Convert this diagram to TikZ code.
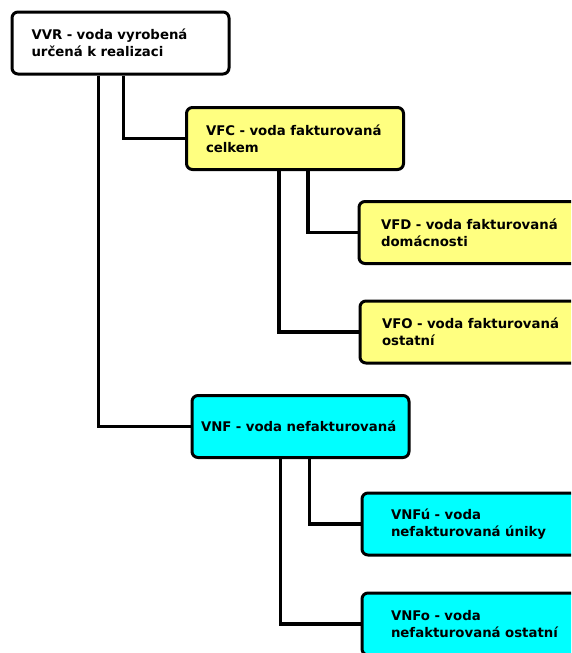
\documentclass[tikz,border=0pt]{standalone}
\usepackage{fontspec}
\setmainfont{DejaVu Sans}
\usepackage{xcolor}
\usepackage{tikz}
\definecolor{boxyellow}{HTML}{FFFF80}
\definecolor{boxcyan}{HTML}{00FFFF}

\begin{document}
\begin{tikzpicture}[x=1pt, y=-1pt, every node/.style={draw, line width=3pt, rounded corners=6pt, minimum width=217pt, minimum height=62pt, text width=178pt, inner xsep=19.5pt, align=left, font=\bfseries\fontsize{13.3}{17}\selectfont}]
			\useasboundingbox (0,0) rectangle (571,653);
			\clip (0,0) rectangle (571,653);
			% Nodes
			\node[fill=white] (vvr) at (120.5,43) {VVR - voda vyrobená\\určená k realizaci};
			\node[fill=boxyellow] (vfc) at (295,138.5) {VFC - voda fakturovaná\\celkem};
			\node[fill=boxyellow, inner xsep=22pt] (vfd) at (470,232.5) {VFD - voda fakturovaná\\domácnosti};
			\node[fill=boxyellow, inner xsep=22pt] (vfo) at (471,332) {VFO - voda fakturovaná\\ostatní};
			\node[fill=boxcyan, text width=199pt, inner xsep=9pt] (vnf) at (300.5,426.5) {VNF - voda nefakturovaná};
			\node[fill=boxcyan, text width=170pt, inner xsep=29pt] (vnfu) at (476,524) {VNFú - voda\\nefakturovaná úniky};
			\node[fill=boxcyan, text width=170pt, inner xsep=29pt] (vnfo) at (476,624) {VNFo - voda\\nefakturovaná ostatní};
			% Edges
			\draw[line width=3.5pt] ([xshift=113pt]vvr.south west) |- (vfc.west);
			\draw[line width=3.5pt] ([xshift=88pt]vvr.south west) |- (vnf.west);
			\draw[line width=3.5pt] ([xshift=123pt]vfc.south west) |- (vfd.west);
			\draw[line width=3.5pt] ([xshift=94pt]vfc.south west) |- (vfo.west);
			\draw[line width=3.5pt] ([xshift=119pt]vnf.south west) |- (vnfu.west);
			\draw[line width=3.5pt] ([xshift=90pt]vnf.south west) |- (vnfo.west);
		\end{tikzpicture}
\end{document}
